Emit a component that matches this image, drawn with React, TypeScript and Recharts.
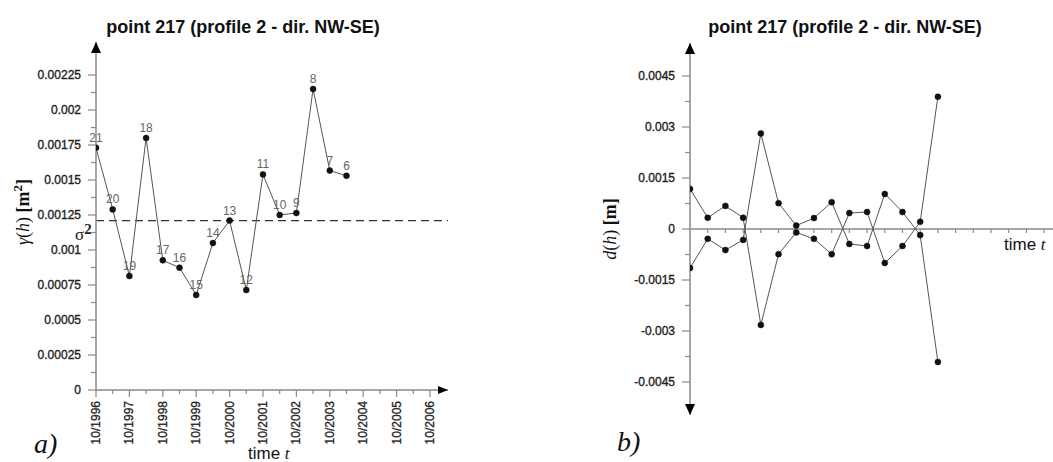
import { LineChart, Line, XAxis, YAxis, ReferenceLine, ReferenceDot, LabelList } from 'recharts'

// a) semivariogram gamma(h), one point every half year starting 10/1996
const gammaTimes = [
  1996.75, 1997.25, 1997.75, 1998.25, 1998.75, 1999.25, 1999.75, 2000.25,
  2000.75, 2001.25, 2001.75, 2002.25, 2002.75, 2003.25, 2003.75, 2004.25,
]
const gammaValues = [
  0.00173, 0.00129, 0.000814, 0.0018, 0.000926, 0.000874, 0.000679, 0.00105,
  0.00121, 0.000714, 0.00154, 0.00125, 0.001264, 0.00215, 0.001567, 0.00153,
]
const pointIds = [21, 20, 19, 18, 17, 16, 15, 14, 13, 12, 11, 10, 9, 8, 7, 6]
const sigma2 = 0.00121

const gammaMajorTicks = [0, 0.00025, 0.0005, 0.00075, 0.001, 0.00125, 0.0015, 0.00175, 0.002, 0.00225]
const gammaMinorTicks = [0.000125, 0.000375, 0.000625, 0.000875, 0.001125, 0.001375, 0.001625, 0.001875, 0.002125]
const gammaYMax = 0.0024857

const timeMajorTicks = [1996.75, 1997.75, 1998.75, 1999.75, 2000.75, 2001.75, 2002.75, 2003.75, 2004.75, 2005.75, 2006.75]
const timeMinorTicks = [1997.25, 1998.25, 1999.25, 2000.25, 2001.25, 2002.25, 2003.25, 2004.25, 2005.25, 2006.25]
const timeXMax = 2007.29

// b) d(h), two mirrored branches
const dIndex = [0, 1, 2, 3, 4, 5, 6, 7, 8, 9, 10, 11, 12, 13, 14]
const dSeriesA = [
  0.00118, 0.00033, 0.00068, 0.00033, -0.00282, -0.00074, -0.0001, -0.00029,
  -0.00074, 0.00047, 0.0005, -0.001, -0.0005, 0.00021, 0.00389,
]
const dSeriesB = [
  -0.00115, -0.00029, -0.00062, -0.00032, 0.00281, 0.00076, 0.0001, 0.00032,
  0.00079, -0.00044, -0.0005, 0.00103, 0.0005, -0.00018, -0.00391,
]
const dMajorTicks = [-0.0045, -0.003, -0.0015, 0, 0.0015, 0.003, 0.0045]
const dMinorTicks = [-0.00375, -0.00225, -0.00075, 0.00075, 0.00225, 0.00375]
const dAxisTicks = [1, 2, 3, 4, 5, 6, 7, 8, 9, 10, 11, 12, 13, 14, 15, 16, 17, 18, 19, 20]
const dYMax = 0.00547
const dXMax = 20.5

const FONT = '"Liberation Sans", Arial, sans-serif'
const SERIF = '"Liberation Serif", "Times New Roman", serif'
const AXIS = '#8a8a8a'

const gammaData = gammaTimes.map((t, i) => ({ t, g: gammaValues[i], id: pointIds[i] }))
const dData = dIndex.map((t, i) => ({ t, a: dSeriesA[i], b: dSeriesB[i] }))

const fmt = (v: number) => String(Number(v.toPrecision(6)))

const TICK_SIZE = 8
const TICK_MARGIN = 7

function makeYTick(majors: number[]) {
  return (props: any) => {
    const { x, y, payload } = props
    const axisX = x + TICK_SIZE + TICK_MARGIN
    const major = majors.some((m) => Math.abs(m - payload.value) < 1e-9)
    return (
      <g>
        <line x1={axisX - (major ? 8 : 5)} x2={axisX} y1={y} y2={y} stroke={AXIS} strokeWidth={1.2} />
        {major && (
          <text x={x} y={y} textAnchor="end" dominantBaseline="central" fontFamily={FONT} fontSize={12}
            fill="#222" stroke="#222" strokeWidth={0.35}>
            {fmt(payload.value)}
          </text>
        )}
      </g>
    )
  }
}

const TimeTick = (props: any) => {
  const { x, y, payload } = props
  const axisY = y - TICK_SIZE - TICK_MARGIN
  const major = timeMajorTicks.some((m) => Math.abs(m - payload.value) < 1e-9)
  return (
    <g>
      <line x1={x} x2={x} y1={axisY} y2={axisY + (major ? 7 : 4)} stroke={AXIS} strokeWidth={1.2} />
      {major && (
        <text transform={`translate(${x},${axisY + 11}) rotate(-90)`} textAnchor="end" dominantBaseline="central"
          fontFamily={FONT} fontSize={12} fill="#222" stroke="#222" strokeWidth={0.3}>
          {'10/' + Math.floor(payload.value)}
        </text>
      )}
    </g>
  )
}

const arrowUp = (p: any) => <path d={`M${p.cx},${p.cy}L${p.cx - 5},${p.cy + 11}L${p.cx + 5},${p.cy + 11}Z`} fill="#000" />
const arrowDown = (p: any) => <path d={`M${p.cx},${p.cy}L${p.cx - 5},${p.cy - 11}L${p.cx + 5},${p.cy - 11}Z`} fill="#000" />
const arrowRight = (p: any) => <path d={`M${p.cx},${p.cy}L${p.cx - 10},${p.cy - 4}L${p.cx - 10},${p.cy + 4}Z`} fill="#000" />
const axisTickMark = (p: any) => <line x1={p.cx} x2={p.cx} y1={p.cy} y2={p.cy + 4} stroke={AXIS} strokeWidth={1.2} />

const SigmaLabel = (props: any) => {
  const { viewBox } = props
  return (
    <text x={viewBox.x - 21} y={viewBox.y + 19} fontFamily={SERIF} fontSize={17} fill="#222">
      σ<tspan dy={-6} fontSize={15} fontWeight="bold">2</tspan>
    </text>
  )
}

const dotStyle = { r: 3, fill: '#111', stroke: '#111', strokeWidth: 0.5 }

const abs = (style: React.CSSProperties): React.CSSProperties => ({ position: 'absolute', whiteSpace: 'nowrap', ...style })

export default function App() {
  return (
    <div style={{ position: 'absolute', left: 0, top: 0, width: 1053, height: 462, background: '#fff', overflow: 'hidden' }}>
      <div style={abs({ left: 0, top: 0 })}>
        <LineChart width={500} height={462} data={gammaData} margin={{ top: 42, right: 52, left: 0, bottom: 0 }}>
          <XAxis dataKey="t" type="number" domain={[1996.75, timeXMax]} ticks={[...timeMajorTicks, ...timeMinorTicks].sort((a, b) => a - b)}
            height={72} tickLine={false} tickSize={TICK_SIZE} tickMargin={TICK_MARGIN} interval={0}
            axisLine={{ stroke: AXIS, strokeWidth: 1.5 }} tick={TimeTick} allowDataOverflow />
          <YAxis type="number" domain={[0, gammaYMax]} ticks={[...gammaMajorTicks, ...gammaMinorTicks].sort((a, b) => a - b)}
            width={96} tickLine={false} tickSize={TICK_SIZE} tickMargin={TICK_MARGIN} interval={0}
            axisLine={{ stroke: AXIS, strokeWidth: 1.5 }} tick={makeYTick(gammaMajorTicks)} allowDataOverflow />
          <ReferenceLine y={sigma2} stroke="#333" strokeWidth={1.2} strokeDasharray="8 5" label={(p: any) => <SigmaLabel {...p} />} />
          <Line type="linear" dataKey="g" stroke="#555" strokeWidth={1} dot={dotStyle} activeDot={false} isAnimationActive={false}>
            <LabelList dataKey="id" position="top" offset={6} fill="#666" fontFamily={FONT} fontSize={12} />
          </Line>
          <ReferenceDot x={1996.75} y={gammaYMax} ifOverflow="visible" shape={arrowUp} />
          <ReferenceDot x={timeXMax} y={0} ifOverflow="visible" shape={arrowRight} />
        </LineChart>
      </div>

      <div style={abs({ left: 500, top: 0 })}>
        <LineChart width={553} height={462} data={dData} margin={{ top: 43, right: 0, left: 0, bottom: 47 }}>
          <XAxis dataKey="t" type="number" domain={[0, dXMax]} hide allowDataOverflow />
          <YAxis type="number" domain={[-dYMax, dYMax]} ticks={[...dMajorTicks, ...dMinorTicks].sort((a, b) => a - b)}
            width={190} tickLine={false} tickSize={TICK_SIZE} tickMargin={TICK_MARGIN} interval={0}
            axisLine={{ stroke: AXIS, strokeWidth: 1.5 }} tick={makeYTick(dMajorTicks)} allowDataOverflow />
          <ReferenceLine y={0} stroke={AXIS} strokeWidth={1.5} />
          {dAxisTicks.map((t) => (
            <ReferenceDot key={t} x={t} y={0} ifOverflow="visible" shape={axisTickMark} />
          ))}
          <Line type="linear" dataKey="a" stroke="#555" strokeWidth={1} dot={dotStyle} activeDot={false} isAnimationActive={false} />
          <Line type="linear" dataKey="b" stroke="#555" strokeWidth={1} dot={dotStyle} activeDot={false} isAnimationActive={false} />
          <ReferenceDot x={0} y={dYMax} ifOverflow="visible" shape={arrowUp} />
          <ReferenceDot x={0} y={-dYMax} ifOverflow="visible" shape={arrowDown} />
        </LineChart>
      </div>

      <div style={abs({ left: 243, top: 27, transform: 'translate(-50%, -50%)', fontFamily: FONT, fontWeight: 'bold', fontSize: 18, color: '#111' })}>
        point 217 (profile 2 - dir. NW-SE)
      </div>
      <div style={abs({ left: 845, top: 27, transform: 'translate(-50%, -50%)', fontFamily: FONT, fontWeight: 'bold', fontSize: 18, color: '#111' })}>
        point 217 (profile 2 - dir. NW-SE)
      </div>

      <div style={abs({ left: 22, top: 212, transform: 'translate(-50%, -50%) rotate(-90deg)', fontFamily: SERIF, fontSize: 18, color: '#111' })}>
        <i>γ</i>(<i>h</i>) <b>[m<sup style={{ fontSize: 13 }}>2</sup>]</b>
      </div>
      <div style={abs({ left: 610, top: 229, transform: 'translate(-50%, -50%) rotate(-90deg)', fontFamily: SERIF, fontSize: 18, color: '#111' })}>
        <i>d</i>(<i>h</i>) <b>[m]</b>
      </div>

      <div style={abs({ left: 248, top: 444, fontFamily: FONT, fontSize: 17, color: '#111' })}>
        time <i style={{ fontFamily: SERIF }}>t</i>
      </div>
      <div style={abs({ left: 1004, top: 235, fontFamily: FONT, fontSize: 17, color: '#111' })}>
        time <i style={{ fontFamily: SERIF }}>t</i>
      </div>

      <div style={abs({ left: 34, top: 428, fontFamily: SERIF, fontStyle: 'italic', fontSize: 28, color: '#111' })}>a)</div>
      <div style={abs({ left: 617, top: 426, fontFamily: SERIF, fontStyle: 'italic', fontSize: 28, color: '#111' })}>b)</div>
    </div>
  )
}
